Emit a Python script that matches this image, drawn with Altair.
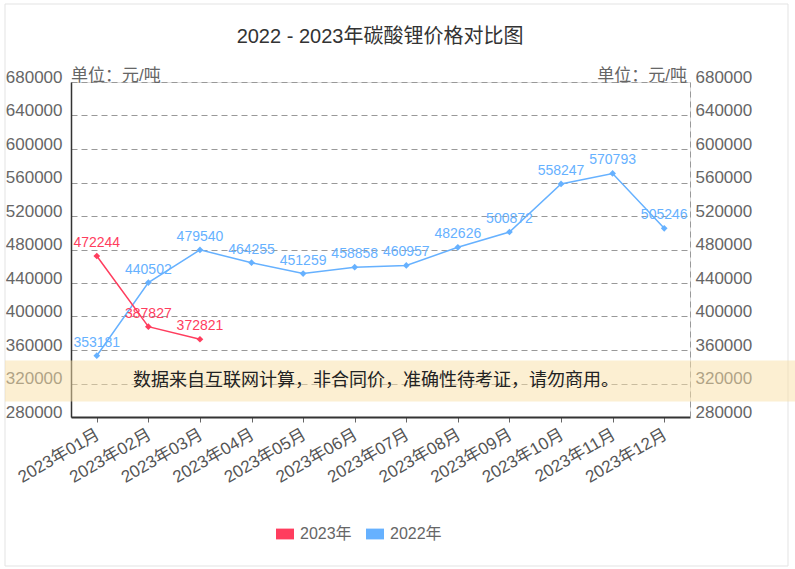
import altair as alt
import pandas as pd

months = ["2023年01月", "2023年02月", "2023年03月", "2023年04月", "2023年05月", "2023年06月",
          "2023年07月", "2023年08月", "2023年09月", "2023年10月", "2023年11月", "2023年12月"]
v2022 = [353181, 440502, 479540, 464255, 451259, 458858, 460957, 482626, 500872, 558247, 570793, 505246]
v2023 = [472244, 387827, 372821]
series_names = ["2023年", "2022年"]
y_ticks = list(range(280000, 680001, 40000))
title_text = "2022 - 2023年碳酸锂价格对比图"
note_text = "数据来自互联网计算，非合同价，准确性待考证，请勿商用。"
unit_text = "单位：元/吨"

RED = "#ff3d5e"
BLUE = "#66b1ff"
FONT = "Liberation Sans, Noto Sans CJK SC, sans-serif"

rows = []
for m, v in zip(months, v2022):
    rows.append({"month": m, "value": v, "series": "2022年"})
for m, v in zip(months, v2023):
    rows.append({"month": m, "value": v, "series": "2023年"})
df = pd.DataFrame(rows)

one = pd.DataFrame({"a": [0]})

W, H = 619, 335
xscale = alt.Scale(type="point", padding=0.5, domain=months)
yscale = alt.Scale(domain=[280000, 680000], nice=False, zero=False)
cscale = alt.Scale(domain=series_names, range=[RED, BLUE])

base = alt.Chart(df)

x_axis = alt.Axis(labelAngle=-30, domainColor="#333", domainWidth=2, tickColor="#666",
                  tickSize=5, labelFontSize=17, labelColor="#555", labelFont=FONT,
                  labelPadding=4, labelOffset=-3, title=None, grid=False, zindex=0)
left_axis = alt.Axis(orient="left", values=y_ticks, format="d", grid=True, gridDash=[6, 4], gridColor="#999",
                     domainColor="#333", domainWidth=1.5, ticks=False, labelFontSize=17,
                     labelColor="#666", labelFont=FONT, labelPadding=9, labelBaseline="alphabetic",
                     title=None, zindex=0)
right_axis = alt.Axis(orient="right", values=y_ticks, format="d", grid=False, domainDash=[6, 4],
                      domainColor="#999", ticks=False, labelFontSize=17, labelColor="#666", labelFont=FONT,
                      labelPadding=5, labelBaseline="alphabetic", title=None, zindex=0)

border = alt.Chart(one).mark_rect(fill=None, stroke="#e3e3e3", strokeWidth=1).encode(
    x=alt.value(-66), x2=alt.value(717), y=alt.value(-78), y2=alt.value(484))

banner = alt.Chart(one).mark_rect(fill="#f9dfa5", opacity=0.5).encode(
    x=alt.value(-66), x2=alt.value(724), y=alt.value(278.5), y2=alt.value(319.5))

lines = base.mark_line(strokeWidth=1.5).encode(
    x=alt.X("month:N", scale=xscale, sort=months, axis=x_axis),
    y=alt.Y("value:Q", scale=yscale, axis=left_axis),
    color=alt.Color("series:N", scale=cscale, legend=None),
    detail="series:N",
)

points = base.mark_point(shape="diamond", filled=True, size=45, opacity=1).encode(
    x=alt.X("month:N", scale=xscale, sort=months, axis=None),
    y=alt.Y("value:Q", scale=yscale, axis=right_axis),
    color=alt.Color("series:N", scale=cscale, legend=alt.Legend(
        orient="none", direction="horizontal", legendX=205, legendY=443, title=None,
        symbolType="M-1,-0.6H1V0.6H-1Z", symbolSize=324, symbolStrokeWidth=0,
        labelFontSize=16, labelColor="#666", labelFont=FONT, labelOffset=6,
        columnPadding=14, symbolOpacity=1)),
)

labels = base.mark_text(dy=-13, fontSize=14, font=FONT).encode(
    x=alt.X("month:N", scale=xscale, sort=months, axis=None),
    y=alt.Y("value:Q", scale=yscale, axis=None),
    text=alt.Text("value:Q", format="d"),
    color=alt.Color("series:N", scale=cscale, legend=None),
)

banner_text = alt.Chart(one).mark_text(
    text=note_text, fontSize=18, font=FONT,
    color="#222", align="center", baseline="middle").encode(
    x=alt.value(305), y=alt.value(299))

title_mark = alt.Chart(one).mark_text(
    text=title_text, fontSize=20, font=FONT, color="#333", align="center", baseline="middle").encode(
    x=alt.value(309), y=alt.value(-45))

unit_left = alt.Chart(one).mark_text(
    text=unit_text, fontSize=17, font=FONT, color="#666", align="left", baseline="middle").encode(
    x=alt.value(0), y=alt.value(-6))
unit_right = alt.Chart(one).mark_text(
    text=unit_text, fontSize=17, font=FONT, color="#666", align="right", baseline="middle").encode(
    x=alt.value(616), y=alt.value(-6))

chart = alt.layer(border, lines, points, banner, labels, banner_text, title_mark,
                  unit_left, unit_right).resolve_axis(
    x="independent", y="independent"
).resolve_legend(color="independent").properties(
    width=W, height=H,
    autosize=alt.AutoSizeParams(type="none"),
    padding={"left": 71, "top": 82, "right": 105, "bottom": 152},
).configure_view(fill="#f8f9ff", stroke=None).configure(background="white")

chart.save("out.html", embed_options={"renderer": "svg", "actions": False})
